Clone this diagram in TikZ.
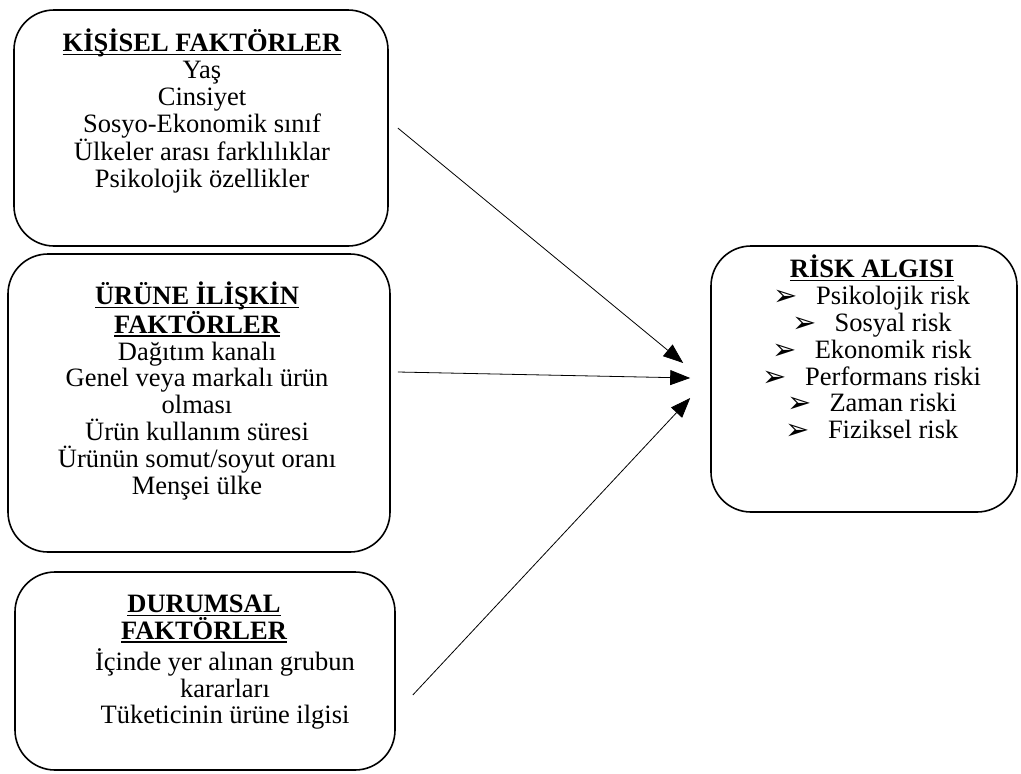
\documentclass[tikz,border=0pt]{standalone}
\usepackage{fontspec}
\setmainfont{Liberation Serif}
\newfontfamily\symfont{DejaVu Sans}
\usetikzlibrary{arrows.meta}
\newcommand{\hd}[1]{\setbox0\hbox{\bfseries #1}\rlap{\rule[-3.5pt]{\wd0}{1.6pt}}\box0}
\newcommand{\bul}[1]{\smash{\raisebox{-1pt}{\symfont\fontsize{29}{29}\selectfont ➢}}\hspace{18pt}#1}
\tikzset{
  box/.style={draw, line width=1.6pt, rounded corners=40pt, inner sep=0pt},
  txt/.style={align=center, inner sep=0pt, font=\fontsize{26.5}{26.8}\selectfont},
  arr/.style={line width=0.8pt, -{Triangle[length=20pt,width=15pt]}}
}
\begin{document}
\begin{tikzpicture}[x=1pt,y=-1pt]
\useasboundingbox (0,0) rectangle (1021,774);
% boxes
\node[box, minimum width=374pt, minimum height=236pt] (b1) at (201,128) {};
\node[box, minimum width=382pt, minimum height=298pt] (b2) at (199,403) {};
\node[box, minimum width=380pt, minimum height=198pt] (b3) at (205,671) {};
\node[box, minimum width=306pt, minimum height=266pt] (b4) at (864,379) {};
% texts
\node[txt] (t1) at (202,111) {\hd{KİŞİSEL FAKTÖRLER}\\Yaş\\Cinsiyet\\Sosyo-Ekonomik sınıf\\Ülkeler arası farklılıklar\\Psikolojik özellikler};
\node[txt] (t2) at (197,391) {\hd{ÜRÜNE İLİŞKİN}\\\hd{FAKTÖRLER}\\Dağıtım kanalı\\Genel veya markalı ürün\\olması\\Ürün kullanım süresi\\Ürünün somut/soyut oranı\\Menşei ülke};
\node[txt] (t3a) at (204,619) {\hd{DURUMSAL}\\\hd{FAKTÖRLER}};
\node[txt] (t3b) at (225,689) {İçinde yer alınan grubun\\kararları\\Tüketicinin ürüne ilgisi};
\node[txt] (t4) at (872,347) {\hd{RİSK ALGISI}\\\bul{Psikolojik risk}\\\bul{Sosyal risk}\\\bul{Ekonomik risk}\\\bul{Performans riski}\\\bul{Zaman riski}\\\bul{Fiziksel risk}};
% connectors
\coordinate (s1) at ([xshift=9pt]b1.east);
\coordinate (s2) at ([xshift=7pt,yshift=31pt]b2.east);
\coordinate (s3) at ([xshift=17pt,yshift=-24pt]b3.east);
\coordinate (e1) at ([xshift=-27pt,yshift=16pt]b4.west);
\coordinate (e2) at ([xshift=-20pt,yshift=1pt]b4.west);
\coordinate (e3) at ([xshift=-20pt,yshift=-19pt]b4.west);
\draw[arr] (s1) -- (e1);
\draw[arr] (s2) -- (e2);
\draw[arr] (s3) -- (e3);
\end{tikzpicture}
\end{document}
